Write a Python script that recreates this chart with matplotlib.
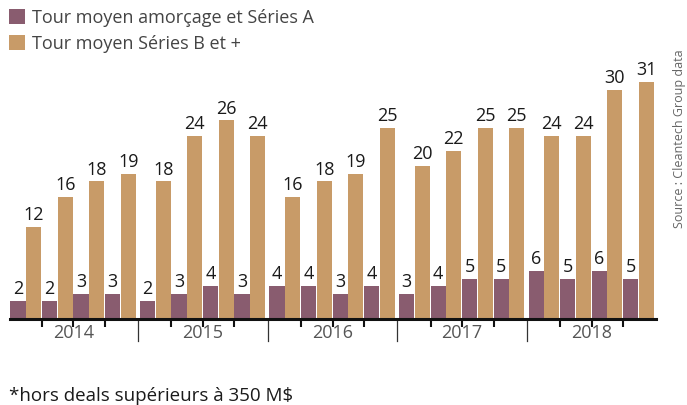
import matplotlib
matplotlib.use("Agg")
import matplotlib.pyplot as plt
from matplotlib.patches import Patch
from matplotlib import transforms

plt.rcParams['font.family'] = ['Open Sans', 'DejaVu Sans']

years = ["2014", "2015", "2016", "2017", "2018"]
quarters_per_year = 4
# bar heights (labels show rounded values)
seed_a = [2.3, 2.3, 3.25, 3.25, 2.3, 3.25, 4.3, 3.25, 4.3, 4.3, 3.25, 4.3,
          3.25, 4.3, 5.2, 5.2, 6.2, 5.2, 6.2, 5.2]
series_b = [12, 16, 18, 19, 18, 24, 26, 24, 16, 18, 19, 25, 20, 22, 25, 25, 24, 24, 30, 31]
labels = ["Tour moyen amorçage et Séries A", "Tour moyen Séries B et +"]
source = "Source : Cleantech Group data"
footnote = "*hors deals supérieurs à 350 M$"

c_a = "#895c6f"
c_b = "#c89b68"

W, H = 687, 405
fig = plt.figure(figsize=(W / 100, H / 100), dpi=100)
x0_px, x1_px = 9.5, 655.5
base_px, top_px = 318.5, 60
ax = fig.add_axes([x0_px / W, (H - base_px) / H, (x1_px - x0_px) / W, (base_px - top_px) / H])

gap = 0.11
n = len(seed_a)
pos = [(i // quarters_per_year) * (quarters_per_year + gap) + (i % quarters_per_year)
       for i in range(n)]
bw = 0.48
xa = [p for p in pos]
xb = [p + 0.5 for p in pos]
ba = ax.bar(xa, seed_a, width=bw, align='edge', color=c_a, label=labels[0])
bb = ax.bar(xb, series_b, width=bw, align='edge', color=c_b, label=labels[1])
ax.bar_label(ba, fmt='%.0f', padding=2, fontsize=13, color="#1a1a1a")
ax.bar_label(bb, fmt='%.0f', padding=2, fontsize=13, color="#1a1a1a")

span = len(years) * (quarters_per_year + gap) - gap
ax.set_xlim(-0.03, span + 0.03)
ax.set_ylim(0, 33.92)
for s in ["top", "right", "left"]:
    ax.spines[s].set_visible(False)
ax.spines["bottom"].set_linewidth(2.2)
ax.spines["bottom"].set_color("#111111")
ax.spines["bottom"].set_zorder(5)
ax.set_yticks([])

# quarter ticks at group boundaries inside each year
qticks = [pos[i] for i in range(n) if i % quarters_per_year != 0]
ax.set_xticks(qticks)
ax.set_xticklabels([])
ax.tick_params(axis='x', length=6, width=1.5, color="#111111", direction='out')

# year separators and year labels
trans = transforms.blended_transform_factory(ax.transData, ax.transAxes)
axh = base_px - top_px
for k in range(1, len(years)):
    xs = k * (quarters_per_year + gap) - gap / 2
    ax.plot([xs, xs], [0, -(341 - base_px) / axh], transform=trans, color="#333333",
            lw=0.9, clip_on=False)
for k, yr in enumerate(years):
    xc = k * (quarters_per_year + gap) + quarters_per_year / 2
    ax.text(xc, -(333 - base_px) / axh, yr, transform=trans, ha='center', va='center',
            fontsize=13, color="#555555")

handles = [Patch(facecolor=c_a, edgecolor='none'), Patch(facecolor=c_b, edgecolor='none')]
fig.legend(handles, labels, loc='upper left', bbox_to_anchor=(9 / W, 1 - 9 / H),
           frameon=False, fontsize=13, handlelength=0.9, handleheight=0.9,
           handletextpad=0.4, labelspacing=0.45, borderpad=0, borderaxespad=0,
           labelcolor="#444444")

fig.text(679 / W, 1 - 139 / H, source, rotation=90, ha='center', va='center',
         fontsize=9, color="#666666")
fig.text(9 / W, 1 - 396 / H, footnote, ha='left', va='center', fontsize=13.5,
         color="#1a1a1a")

fig.savefig("out.png", dpi=100)
